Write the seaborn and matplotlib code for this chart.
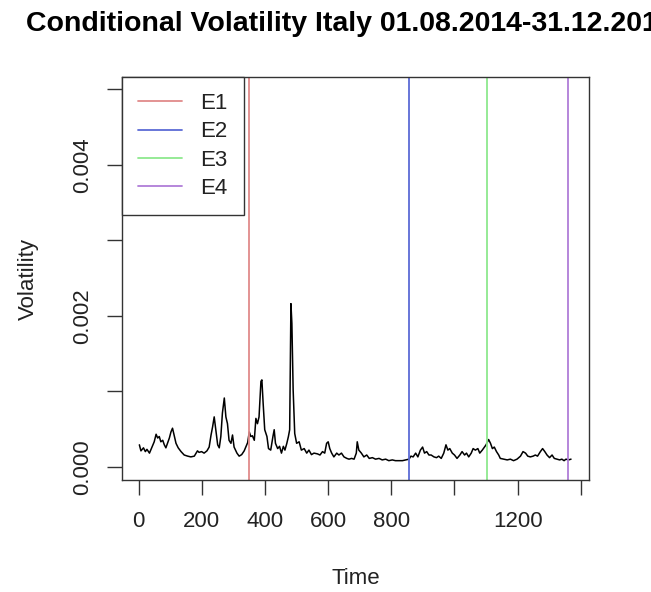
import numpy as np
import pandas as pd
import matplotlib
matplotlib.use("Agg")
import matplotlib.pyplot as plt
import seaborn as sns

# ---- data (volatility in units of 1e-3) ----
time_idx = [2, 7, 15, 21, 26, 34, 41, 49, 55, 60, 65, 70, 76, 81, 86, 91, 97, 102, 107, 112,
            118, 125, 134, 144, 155, 165, 176, 186, 191, 199, 207, 216, 223, 229, 234, 239, 244,
            250, 255, 260, 265, 271, 276, 281, 286, 292, 297, 302, 311, 318, 326, 334, 339, 345,
            350, 355, 360, 366, 371, 376, 381, 387, 390, 394, 399, 406, 411, 418, 425, 429, 433,
            440, 446, 452, 458, 463, 469, 474, 478, 482, 485, 489, 494, 500, 508, 515, 524, 532,
            539, 547, 555, 566, 574, 582, 589, 595, 600, 605, 611, 618, 627, 634, 642, 650, 659,
            666, 674, 682, 689, 692, 697, 705, 713, 722, 730, 740, 750, 761, 771, 782, 792, 803,
            813, 824, 835, 845, 856, 862, 869, 877, 884, 892, 899, 905, 912, 919, 926, 935, 943,
            950, 958, 966, 973, 979, 985, 993, 1000, 1008, 1017, 1024, 1032, 1038, 1045, 1053,
            1059, 1066, 1074, 1080, 1088, 1095, 1100, 1108, 1114, 1120, 1126, 1133, 1140, 1145,
            1156, 1167, 1177, 1187, 1198, 1209, 1217, 1225, 1232, 1240, 1249, 1256, 1263, 1272,
            1279, 1286, 1293, 1301, 1309, 1316, 1325, 1333, 1340, 1347, 1353, 1361, 1369]
vol_e3 = [0.29, 0.21, 0.25, 0.20, 0.23, 0.18, 0.25, 0.33, 0.43, 0.38, 0.40, 0.33, 0.35, 0.29,
          0.25, 0.31, 0.38, 0.46, 0.51, 0.42, 0.31, 0.25, 0.20, 0.155, 0.14, 0.13, 0.14, 0.21,
          0.19, 0.20, 0.18, 0.21, 0.26, 0.42, 0.53, 0.66, 0.49, 0.29, 0.25, 0.40, 0.71, 0.91,
          0.66, 0.57, 0.35, 0.31, 0.42, 0.26, 0.18, 0.14, 0.16, 0.21, 0.26, 0.32, 0.46, 0.40,
          0.41, 0.35, 0.64, 0.57, 0.66, 1.13, 1.15, 0.84, 0.49, 0.40, 0.24, 0.22, 0.40, 0.49,
          0.31, 0.24, 0.27, 0.18, 0.27, 0.22, 0.31, 0.40, 0.49, 2.16, 1.90, 1.02, 0.44, 0.31,
          0.33, 0.22, 0.24, 0.18, 0.22, 0.16, 0.18, 0.17, 0.155, 0.20, 0.18, 0.31, 0.33, 0.24,
          0.18, 0.13, 0.18, 0.155, 0.18, 0.13, 0.11, 0.10, 0.11, 0.10, 0.18, 0.33, 0.22, 0.18,
          0.13, 0.155, 0.11, 0.12, 0.10, 0.11, 0.09, 0.10, 0.08, 0.09, 0.08, 0.08, 0.08, 0.09,
          0.10, 0.14, 0.13, 0.18, 0.13, 0.22, 0.26, 0.18, 0.20, 0.155, 0.155, 0.13, 0.12, 0.14,
          0.11, 0.18, 0.29, 0.22, 0.24, 0.18, 0.155, 0.11, 0.155, 0.20, 0.155, 0.18, 0.13, 0.18,
          0.24, 0.22, 0.24, 0.18, 0.22, 0.26, 0.29, 0.36, 0.31, 0.24, 0.26, 0.20, 0.155, 0.11,
          0.10, 0.09, 0.10, 0.08, 0.10, 0.14, 0.20, 0.18, 0.14, 0.13, 0.14, 0.155, 0.14, 0.20,
          0.24, 0.20, 0.155, 0.12, 0.155, 0.11, 0.10, 0.09, 0.10, 0.08, 0.10, 0.09, 0.10]

event_labels = ["E1", "E2", "E3", "E4"]
event_times = [348, 855, 1102, 1361]
event_colors = ["#E08A8A", "#5C6BD6", "#8EE88E", "#B07DD8"]

x_ticks = [0, 200, 400, 600, 800, 1000, 1200, 1400]
x_ticklabels = ["0", "200", "400", "600", "800", "", "1200", ""]
y_ticks = [0.000, 0.001, 0.002, 0.003, 0.004, 0.005]
y_ticklabels = ["0.000", "", "0.002", "", "0.004", ""]

title = "Conditional Volatility Italy 01.08.2014-31.12.2018"

df = pd.DataFrame({"Time": time_idx, "Volatility": np.array(vol_e3) * 1e-3})

# ---- style ----
sns.set_theme(style="white")
plt.rcParams["font.family"] = ["Liberation Sans", "DejaVu Sans"]

FS = 16

fig = plt.figure(figsize=(6.51, 5.92), dpi=100)
ax = fig.add_axes([0.1874, 0.1892, 0.9043 - 0.1874, 0.8699 - 0.1892])

sns.lineplot(data=df, x="Time", y="Volatility", color="black", linewidth=1.1, ax=ax)

for lab, t, c in zip(event_labels, event_times, event_colors):
    ax.axvline(t, color=c, linewidth=1.3, label=lab)

ax.set_xlim(-53, 1425)
ax.set_ylim(-0.000176, 0.005162)

ax.set_xticks(x_ticks)
ax.set_xticklabels(x_ticklabels)
ax.set_yticks(y_ticks)
ax.set_yticklabels(y_ticklabels, rotation=90, va="center")

ax.tick_params(axis="both", direction="out", length=10.5, width=1.0, color="#333333",
               labelsize=FS, labelcolor="#222222", bottom=True, left=True)
ax.tick_params(axis="x", pad=12)
ax.tick_params(axis="y", pad=10)

for s in ax.spines.values():
    s.set_visible(True)
    s.set_color("#333333")
    s.set_linewidth(1.0)

ax.set_xlabel("Time", fontsize=FS, color="#222222")
ax.set_ylabel("Volatility", fontsize=FS, color="#222222")
ax.xaxis.set_label_coords(0.5, -0.218)
ax.yaxis.set_label_coords(-0.178, 0.5)

ax.set_title(title, fontsize=20.5, fontweight="bold", pad=33, color="black", x=0.489)

leg = ax.legend(loc="upper left", bbox_to_anchor=(0, 1), borderaxespad=0, frameon=True,
                fancybox=False, fontsize=FS, handlelength=2.0, handletextpad=0.8,
                labelspacing=0.33, borderpad=0.72, edgecolor="#333333")
leg.get_frame().set_linewidth(1.0)
leg.get_frame().set_alpha(1)
for txt in leg.get_texts():
    txt.set_color("#222222")

fig.savefig("out.png", dpi=100)
